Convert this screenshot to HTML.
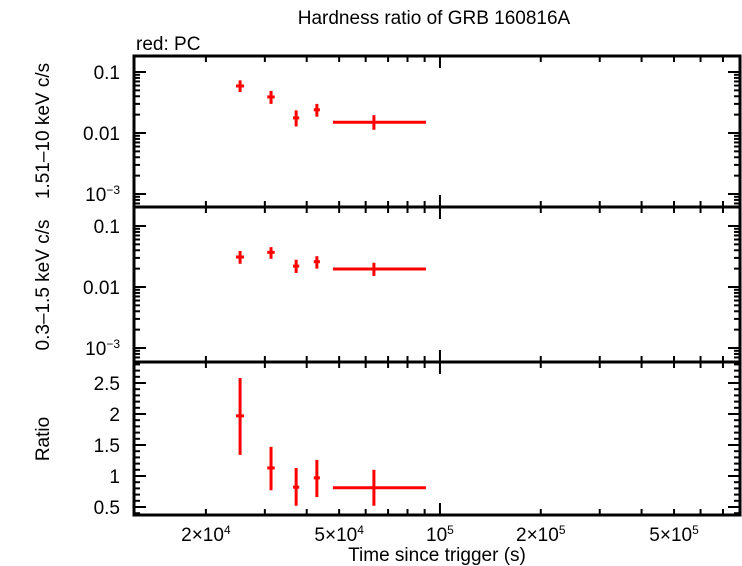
<!DOCTYPE html>
<html><head><meta charset="utf-8"><style>
body{margin:0;background:#fff;}
svg{display:block;font-family:"Liberation Sans",sans-serif;}
</style></head><body>
<svg id="c" width="742" height="566"></svg>
<script>
const timeMid=[2.53e4,3.13e4,3.72e4,4.29e4,6.35e4];
const timeLo=[2.46e4,3.05e4,3.64e4,4.20e4,4.79e4];
const timeHi=[2.60e4,3.21e4,3.80e4,4.38e4,9.08e4];
const hardRate=[0.059,0.039,0.0177,0.024,0.015];
const hardLo=[0.047,0.030,0.0128,0.0185,0.0113];
const hardHi=[0.073,0.049,0.0235,0.030,0.0196];
const softRate=[0.031,0.037,0.022,0.026,0.0197];
const softLo=[0.024,0.029,0.017,0.020,0.0152];
const softHi=[0.039,0.045,0.028,0.032,0.0250];
const ratio=[1.97,1.13,0.82,0.97,0.81];
const ratioLo=[1.34,0.77,0.52,0.66,0.52];
const ratioHi=[2.58,1.47,1.13,1.26,1.10];
const xTickVals=[2e4,5e4,1e5,2e5,5e5];
const xTickLabels=["2×10<tspan dy='-7' font-size='12'>4</tspan>","5×10<tspan dy='-7' font-size='12'>4</tspan>","10<tspan dy='-7' font-size='12'>5</tspan>","2×10<tspan dy='-7' font-size='12'>5</tspan>","5×10<tspan dy='-7' font-size='12'>5</tspan>"];
const ratioTicks=[0.5,1,1.5,2,2.5];

const NS="http://www.w3.org/2000/svg";
const svg=document.getElementById('c');
const L=134,R=740;
const FS=19;
const xmin=Math.log10(1.22e4),xmax=Math.log10(7.87e5);
const X=v=>L+(Math.log10(v)-xmin)/(xmax-xmin)*(R-L);
function mk(tag,attrs,parent){const e=document.createElementNS(NS,tag);for(const k in attrs)e.setAttribute(k,attrs[k]);(parent||svg).appendChild(e);return e;}
function line(x1,y1,x2,y2,col,w,name){const e=mk('line',{x1,y1,x2,y2,stroke:col,'stroke-width':w});

return e;}
function text(x,y,s,anchor,size,name,extra){const e=mk('text',Object.assign({x,y,'text-anchor':anchor,'font-size':size,fill:'#000'},extra||{}));e.innerHTML=s;

return e;}

const panels=[
 {top:56,bot:207,type:'log',y0:0.1,yPix0:72,dec:61,vals:hardRate,lo:hardLo,hi:hardHi,name:'hard'},
 {top:207,bot:362,type:'log',y0:0.1,yPix0:226,dec:61,vals:softRate,lo:softLo,hi:softHi,name:'soft'},
 {top:362,bot:515,type:'lin',vals:ratio,lo:ratioLo,hi:ratioHi,name:'ratio'}
];
panels.forEach(p=>{
 p.Y = p.type==='log' ? (v=>p.yPix0-(Math.log10(v)-Math.log10(p.y0))*p.dec) : (v=>383+(2.5-v)*62);
 const r=mk('rect',{x:L,y:p.top,width:R-L,height:p.bot-p.top,fill:'none',stroke:'#000','stroke-width':3});
 
 
 if(p.type==='log'){
  for(let e=-4;e<=0;e++)for(let m=1;m<10;m++){const v=m*Math.pow(10,e);const y=p.Y(v);if(y<p.top+1||y>p.bot-1)continue;
   const len=m===1?12:6;line(L,y,L+len,y,'#000',2,p.name+'-y-tick');line(R,y,R-len,y,'#000',2,p.name+'-y-tick-right');}
  [[0.1,'0.1'],[0.01,'0.01'],[0.001,"10<tspan dy='-7' font-size='12'>−3</tspan>"]].forEach(([v,s])=>text(120,p.Y(v)+7,s,'end',FS,p.name+'-y-tick-label'));
 } else {
  for(let v=0.4;v<=2.85;v+=0.1){const y=p.Y(v);if(y<p.top+1||y>p.bot-1)continue;const major=Math.abs(v*2-Math.round(v*2))<1e-6;
   const len=major?12:6;line(L,y,L+len,y,'#000',2,'ratio-y-tick');line(R,y,R-len,y,'#000',2,'ratio-y-tick-right');}
  ratioTicks.forEach(v=>text(120,p.Y(v)+7,String(v),'end',FS,'ratio-y-tick-label'));
 }
 for(let e=4;e<=5;e++)for(let m=1;m<10;m++){const v=m*Math.pow(10,e);const x=X(v);if(x<L+1||x>R-1)continue;
  const len=(m===1)?12:6;line(x,p.top,x,p.top+len,'#000',2,'x-tick');line(x,p.bot,x,p.bot-len,'#000',2,'x-tick');}
 p.vals.forEach((v,i)=>{
  line(X(timeLo[i]),p.Y(v),X(timeHi[i]),p.Y(v),'#f00',3,p.name+'-xerr-'+i);
  line(X(timeMid[i]),p.Y(p.lo[i]),X(timeMid[i]),p.Y(p.hi[i]),'#f00',3,p.name+'-yerr-'+i);
 });
});
xTickVals.forEach((v,i)=>text(X(v),541,xTickLabels[i],'middle',FS,'x-tick-label'));
text(434,24,'Hardness ratio of GRB 160816A','middle',FS,'chart-title');
text(136,50,'red: PC','start',FS,'legend-label');
text(437,561,'Time since trigger (s)','middle',FS,'x-axis-title');
text(0,0,'1.51–10 keV c/s','middle',FS,'hard-y-axis-title',{transform:'translate(49,131) rotate(-90)'});
text(0,0,'0.3–1.5 keV c/s','middle',FS,'soft-y-axis-title',{transform:'translate(49,285) rotate(-90)'});
text(0,0,'Ratio','middle',FS,'ratio-y-axis-title',{transform:'translate(49,439) rotate(-90)'});
</script>
</body></html>
